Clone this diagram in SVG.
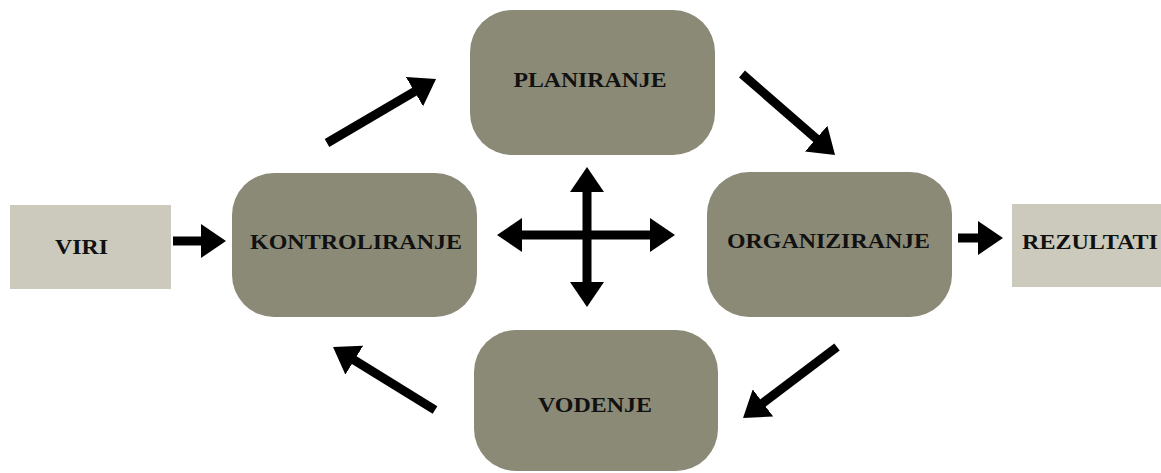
<svg xmlns="http://www.w3.org/2000/svg" width="1161" height="473" viewBox="0 0 1161 473">
<defs>
<style>
.dark{fill:#8b8a77;}
.light{fill:#cbcabd;}
.lbl{font-family:"Liberation Serif","Times New Roman",serif;font-weight:bold;font-size:21px;fill:#111;text-anchor:middle;}
.arr{stroke:#000;stroke-width:9;fill:none;marker-end:url(#head);}
.dbl{stroke:#000;stroke-width:9;fill:none;marker-end:url(#head);marker-start:url(#head);}
</style>
<marker id="head" viewBox="0 0 25 34" refX="2" refY="17" markerWidth="25" markerHeight="34" markerUnits="userSpaceOnUse" orient="auto-start-reverse">
<path d="M0,0 L25,17 L0,34 Z" fill="#000"/>
</marker>
</defs>
<rect width="1161" height="473" fill="#fff"/>
<g id="planiranje">
<rect class="dark" x="470" y="10" width="245" height="145" rx="42" ry="42"/>
<text class="lbl" x="590" y="87" textLength="153" lengthAdjust="spacingAndGlyphs">PLANIRANJE</text>
</g>
<g id="kontroliranje">
<rect class="dark" x="232" y="173" width="245" height="144" rx="42" ry="42"/>
<text class="lbl" x="356" y="249" textLength="212" lengthAdjust="spacingAndGlyphs">KONTROLIRANJE</text>
</g>
<g id="organiziranje">
<rect class="dark" x="707" y="172" width="245" height="145" rx="42" ry="42"/>
<text class="lbl" x="828.5" y="248" textLength="203" lengthAdjust="spacingAndGlyphs">ORGANIZIRANJE</text>
</g>
<g id="vodenje">
<rect class="dark" x="474" y="330" width="244" height="141" rx="42" ry="42"/>
<text class="lbl" x="595" y="412" textLength="114" lengthAdjust="spacingAndGlyphs">VODENJE</text>
</g>
<g id="viri">
<rect class="light" x="10" y="205" width="161" height="84"/>
<text class="lbl" x="81.5" y="254" textLength="53" lengthAdjust="spacingAndGlyphs">VIRI</text>
</g>
<g id="rezultati">
<rect class="light" x="1012" y="204" width="160" height="83"/>
<text class="lbl" x="1090" y="249" textLength="136" lengthAdjust="spacingAndGlyphs">REZULTATI</text>
</g>
<g id="connectors">
<line class="arr" x1="173" y1="241" x2="203" y2="241"/>
<line class="arr" x1="958" y1="238" x2="980" y2="238"/>
<line class="arr" x1="327" y1="143" x2="416.2" y2="90.6"/>
<line class="arr" x1="742" y1="74" x2="817.7" y2="139.9"/>
<line class="arr" x1="837" y1="347" x2="761.4" y2="404.1"/>
<line class="arr" x1="435" y1="410" x2="352.6" y2="359.1"/>
<line class="dbl" x1="520" y1="235" x2="652" y2="235"/>
<line class="dbl" x1="587" y1="190" x2="587" y2="284"/>
</g>
</svg>
